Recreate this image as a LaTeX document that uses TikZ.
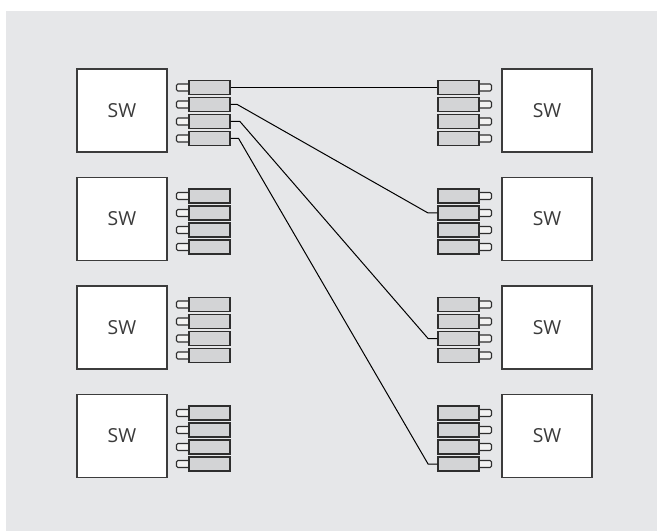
\documentclass[tikz,border=0pt]{standalone}
\usepackage{fontspec}
\setmainfont{Open Sans}
\usepackage{tikz}
\usetikzlibrary{calc}

\definecolor{bggray}{HTML}{E6E7E9}
\definecolor{boxedge}{HTML}{3C3C3C}
\definecolor{plugfill}{HTML}{D3D4D6}
\definecolor{plugedge}{HTML}{2E2E2E}
\definecolor{pinfill}{HTML}{F2F2F2}
\definecolor{swtext}{HTML}{3A3A3A}

\tikzset{
  swbox/.style={draw=boxedge, fill=white, line width=1pt, minimum width=67.5pt,
    minimum height=62.25pt, inner sep=0pt, text=swtext,
    font=\fontsize{14.5}{16}\selectfont},
  plug/.style={draw=plugedge, fill=plugfill, line width=0.9pt, minimum width=30.75pt,
    minimum height=10.5pt, inner sep=0pt},
  pin/.style={draw=plugedge, fill=pinfill, line width=0.8pt, minimum width=10.5pt,
    minimum height=5.25pt, inner sep=0pt, rounded corners=1pt},
  wire/.style={line width=0.75pt, black}
}

\begin{document}
\begin{tikzpicture}[x=0.75pt,y=-0.75pt]
  \useasboundingbox (0,0) rectangle (657,531);
  \fill[bggray] (6,11) rectangle (657,531);
  % switches with their transceivers
  \foreach \r/\y in {1/110.5,2/219,3/327.5,4/436} {
    \node[swbox] (swl\r) at (122,\y) {SW};
    \node[swbox] (swr\r) at (547,\y) {SW};
    \foreach \k/\d in {1/-23,2/-6,3/11,4/28} {
      \node[pin] (pinl\r\k) at (183.5,\y+\d) {};
      \node[plug] (plugl\r\k) at (209.5,\y+\d) {};
      \node[pin] (pinr\r\k) at (484.5,\y+\d) {};
      \node[plug] (plugr\r\k) at (458.5,\y+\d) {};
    }
  }
  % links
  \draw[wire] (plugl11.east) -- (plugr11.west);
  \draw[wire] (plugl12.east) -- ++(5pt,0) -- ([xshift=-7pt]plugr22.west) -- (plugr22.west);
  \draw[wire] (plugl13.east) -- ++(7pt,0) -- ([xshift=-7pt]plugr33.west) -- (plugr33.west);
  \draw[wire] (plugl14.east) -- ++(6pt,0) -- ([xshift=-7pt]plugr44.west) -- (plugr44.west);
\end{tikzpicture}
\end{document}
